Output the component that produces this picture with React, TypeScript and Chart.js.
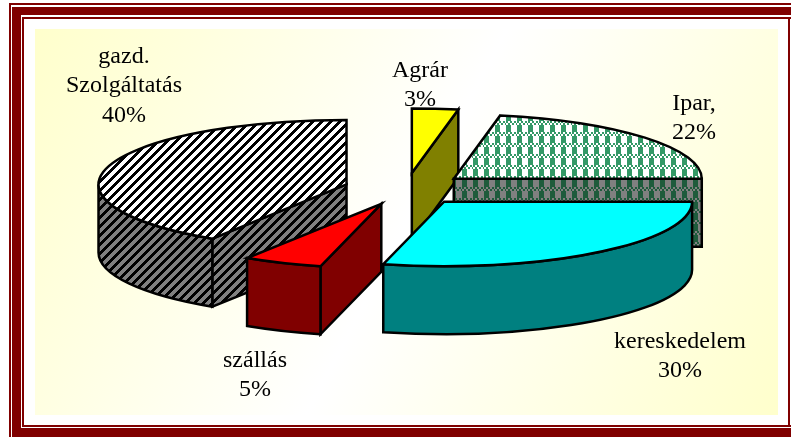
import React, { useEffect, useRef } from "react";
import { Chart, registerables } from "chart.js";

Chart.register(...registerables);

const categories = ["Agrár", "Ipar,", "kereskedelem", "szállás", "gazd.|Szolgáltatás"];
const shares = [3, 22, 30, 5, 40];
const topColors = ["#FFFF00", "check", "#00FFFF", "#FF0000", "stripe"];
const sideColors = ["#808000", "check", "#008080", "#800000", "stripe"];
const drawOrder = [4, 0, 1, 3, 2];
const labelCenters = [
  [420, 85],
  [694, 118],
  [680, 356],
  [255, 375],
  [124, 86],
];

const WIDTH = 791;
const HEIGHT = 437;
const TILT = 0.26;
const DEPTH = 68;
const EXPLODE = 62;
const FORESHORTEN = (4 * Math.PI) / 180;
const LINE_STEP = 29.5;
const DARK_RED = "#800000";

function tile(w: number, h: number, on: (x: number, y: number) => boolean, fg: string, bg: string) {
  const c = document.createElement("canvas");
  c.width = w;
  c.height = h;
  const g = c.getContext("2d")!;
  g.fillStyle = bg;
  g.fillRect(0, 0, w, h);
  g.fillStyle = fg;
  for (let y = 0; y < h; y++) for (let x = 0; x < w; x++) if (on(x, y)) g.fillRect(x, y, 1, 1);
  return g.createPattern(c, "repeat")!;
}
const isStripe = (x: number, y: number) => (x + y) % 9 < 4;
const isCheck = (x: number, y: number) =>
  y < 4 ? ((x >> 1) + (y >> 1)) % 2 === 0 : x < 5;

function resolve(name: string, side: boolean) {
  if (name === "stripe") return tile(9, 9, isStripe, "#000000", side ? "#808080" : "#FFFFFF");
  if (name === "check")
    return side
      ? tile(11, 11, isCheck, "#1E5B3C", "#808080")
      : tile(11, 11, isCheck, "#339966", "#FFFFFF");
  return name;
}

const warp = (t: number) => t - FORESHORTEN * Math.max(0, Math.sin(t));

const pie3d = {
  id: "pie3d",
  beforeDraw(chart: any) {
    const c = chart.ctx;
    c.save();
    c.fillStyle = "#FFFFFF";
    c.fillRect(0, 0, WIDTH, HEIGHT);
    c.fillStyle = DARK_RED;
    c.fillRect(9, 3, WIDTH - 9, 2);
    c.fillRect(12, 7, WIDTH - 12, 8);
    c.fillRect(22, 17, WIDTH - 22, 2);
    c.fillRect(9, 3, 2, HEIGHT - 3);
    c.fillRect(12, 7, 9, HEIGHT - 7);
    c.fillRect(22, 17, 2, 410);
    c.fillRect(22, 425, WIDTH - 22, 2);
    c.fillRect(12, 428, WIDTH - 12, 9);
    c.fillRect(788, 17, 2, 410);
    const g = c.createLinearGradient(35, 29, 778, 415);
    g.addColorStop(0, "#FFFFCC");
    g.addColorStop(0.5, "#FFFFFF");
    g.addColorStop(1, "#FFFFCC");
    c.fillStyle = g;
    c.fillRect(35, 29, 743, 386);
    c.restore();
  },
  beforeDatasetsDraw(chart: any) {
    const c = chart.ctx as CanvasRenderingContext2D;
    const arcs = chart.getDatasetMeta(0).data;
    const ds = chart.data.datasets[0];
    c.save();
    c.lineWidth = 2.5;
    c.strokeStyle = "#000000";
    c.lineJoin = "miter";
    for (const i of drawOrder) {
      const el = arcs[i];
      const a = warp(el.startAngle);
      const b = warp(el.endAngle);
      const mid = (a + b) / 2;
      const rx = el.outerRadius;
      const ry = rx * TILT;
      const cx = el.x + Math.cos(mid) * EXPLODE;
      const cy = el.y + Math.sin(mid) * EXPLODE * TILT;
      const px = (t: number) => cx + rx * Math.cos(t);
      const py = (t: number) => cy + ry * Math.sin(t);
      const side = ds.sideBackground[i];
      const wall = (t: number) => {
        c.beginPath();
        c.moveTo(cx, cy);
        c.lineTo(px(t), py(t));
        c.lineTo(px(t), py(t) + DEPTH);
        c.lineTo(cx, cy + DEPTH);
        c.closePath();
        c.fillStyle = side;
        c.fill();
        c.stroke();
      };
      if (-Math.cos(a) > 1e-6) wall(a);
      if (Math.cos(b) > 1e-6) wall(b);
      const lo = Math.max(a, 0);
      const hi = Math.min(b, Math.PI);
      if (hi - lo > 1e-3) {
        c.beginPath();
        c.ellipse(cx, cy, rx, ry, 0, lo, hi);
        c.lineTo(px(hi), py(hi) + DEPTH);
        c.ellipse(cx, cy + DEPTH, rx, ry, 0, hi, lo, true);
        c.closePath();
        c.fillStyle = side;
        c.fill();
        c.stroke();
      }
      c.beginPath();
      c.moveTo(cx, cy);
      c.ellipse(cx, cy, rx, ry, 0, a, b);
      c.closePath();
      c.fillStyle = el.options.backgroundColor;
      c.fill();
      c.stroke();
    }
    c.restore();
    return false;
  },
  afterDraw(chart: any) {
    const c = chart.ctx as CanvasRenderingContext2D;
    c.save();
    c.font = '24px "Liberation Serif"';
    c.fillStyle = "#000000";
    c.textAlign = "center";
    c.textBaseline = "middle";
    categories.forEach((name, i) => {
      const lines = [...name.split("|"), `${shares[i]}%`];
      const [x, y] = labelCenters[i];
      const top = y - ((lines.length - 1) * LINE_STEP) / 2;
      lines.forEach((line, j) => c.fillText(line, x, top + j * LINE_STEP));
    });
    c.restore();
  },
};

export default function App() {
  const ref = useRef<HTMLCanvasElement>(null);
  useEffect(() => {
    const chart = new Chart(ref.current!, {
      type: "pie",
      data: {
        labels: categories,
        datasets: [
          {
            data: shares,
            backgroundColor: topColors.map((n) => resolve(n, false)),
            sideBackground: sideColors.map((n) => resolve(n, true)),
            borderWidth: 0,
          } as any,
        ],
      },
      options: {
        responsive: false,
        animation: false,
        radius: 248,
        layout: { padding: { left: 21, right: 0, top: 0, bottom: 59 } },
        plugins: { legend: { display: false }, tooltip: { enabled: false } },
      } as any,
      plugins: [pie3d as any],
    });
    return () => chart.destroy();
  }, []);
  return (
    <div style={{ position: "absolute", left: 0, top: 0, width: WIDTH, height: HEIGHT }}>
      <canvas ref={ref} width={WIDTH} height={HEIGHT} style={{ display: "block" }} />
    </div>
  );
}
